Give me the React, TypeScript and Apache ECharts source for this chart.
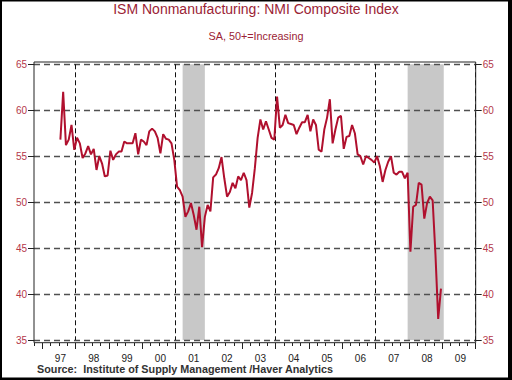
import React, { useEffect, useRef } from "react";
import * as echarts from "echarts";

// Monthly categories: Oct 1996 .. Dec 2009
const months: string[] = [];
for (let y = 1996; y <= 2009; y++) {
  for (let m = 1; m <= 12; m++) {
    if (y === 1996 && m < 10) continue;
    months.push(`${y}-${m < 10 ? "0" + m : m}`);
  }
}

const firstDataMonth = "1997-07";

// NMI composite index, Jul 1997 .. Dec 2008
const nmi1997 = [56.8, 62.0, 56.2, 56.8, 58.4, 55.7];
const nmi1998 = [57.0, 56.4, 54.8, 55.3, 56.1, 55.2, 55.8, 53.5, 55.0, 54.2, 52.8, 52.9];
const nmi1999 = [55.6, 54.6, 55.2, 55.5, 55.5, 56.6, 56.4, 56.4, 56.4, 57.5, 55.2, 56.8];
const nmi2000 = [56.6, 56.2, 57.7, 58.0, 57.7, 57.0, 55.3, 57.4, 56.9, 56.8, 56.4, 54.6];
const nmi2001 = [51.7, 51.3, 50.6, 48.4, 49.0, 49.9, 48.6, 47.0, 49.5, 45.1, 48.4, 49.7];
const nmi2002 = [49.0, 52.7, 53.0, 53.7, 54.9, 52.6, 50.6, 51.1, 52.1, 51.5, 52.8, 52.4];
const nmi2003 = [53.2, 52.4, 49.4, 51.0, 53.7, 57.0, 59.0, 57.9, 58.8, 57.9, 57.0, 56.8];
const nmi2004 = [61.5, 58.1, 58.4, 59.5, 58.6, 58.5, 58.4, 57.4, 58.1, 58.7, 58.7, 59.5];
const nmi2005 = [57.7, 59.0, 58.4, 55.7, 55.5, 57.9, 59.2, 61.2, 56.4, 57.9, 59.2, 59.4];
const nmi2006 = [55.8, 57.1, 57.2, 58.4, 57.5, 55.2, 55.0, 54.1, 55.0, 54.8, 54.6, 54.3];
const nmi2007 = [55.0, 53.9, 52.2, 53.5, 54.4, 55.0, 53.2, 53.0, 53.3, 53.3, 52.6, 53.2];
const nmi2008 = [44.6, 49.5, 49.7, 52.1, 51.9, 48.2, 49.9, 50.6, 50.2, 44.4, 37.3, 40.6];

const recessions: [string, string][] = [
  ["2001-03", "2001-11"],
  ["2007-12", "2009-01"],
];

const dashedYears = ["1998-01", "2001-01", "2004-01", "2007-01"];
const yTicks = { min: 35, max: 65, step: 5 };

const title = "ISM Nonmanufacturing: NMI Composite Index";
const subtitle = "SA, 50+=Increasing";
const source = "Source:  Institute of Supply Management /Haver Analytics";

const values: (number | null)[] = (() => {
  const all = [
    ...nmi1997, ...nmi1998, ...nmi1999, ...nmi2000, ...nmi2001, ...nmi2002,
    ...nmi2003, ...nmi2004, ...nmi2005, ...nmi2006, ...nmi2007, ...nmi2008,
  ];
  const start = months.indexOf(firstDataMonth);
  return months.map((_, i) => (i >= start && i - start < all.length ? all[i - start] : null));
})();

export default function App() {
  const ref = useRef<HTMLDivElement>(null);
  useEffect(() => {
    if (!ref.current) return;
    const chart = echarts.init(ref.current, null, { renderer: "svg" });
    const red = "#b4374a";
    const gridTop = 64.3;
    const gridBottom = 40;
    const gridLeft = 34;
    const gridRight = 36.3;
    const monthOf = (i: number) => Number(months[i].slice(5, 7));
    const yAxisBase = {
      type: "value",
      min: yTicks.min,
      max: yTicks.max,
      interval: yTicks.step,
      z: 2,
      axisLine: { show: false },
      axisTick: { show: true, length: 6, lineStyle: { color: "#222", width: 1 } },
      axisLabel: { color: red, fontSize: 10, fontFamily: "Liberation Sans, Arial", margin: 7 },
    };
    chart.setOption({
      animation: false,
      backgroundColor: "#fff",
      grid: { left: gridLeft, right: gridRight, top: gridTop, bottom: gridBottom, containLabel: false },
      xAxis: [
        {
          type: "category",
          data: months,
          boundaryGap: true,
          position: "bottom",
          offset: 3,
          z: 2,
          axisLine: { show: false },
          axisTick: {
            show: true,
            length: 3,
            interval: (i: number) => (monthOf(i) - 1) % 3 === 0,
            lineStyle: { color: "#222", width: 1 },
          },
          axisLabel: {
            show: true,
            interval: (i: number) => monthOf(i) === 7,
            formatter: (v: string) => v.slice(2, 4),
            color: "#222",
            fontSize: 10,
            fontFamily: "Liberation Sans, Arial",
            margin: 10,
          },
          splitLine: { show: false },
        },
        {
          type: "category",
          data: months,
          boundaryGap: true,
          position: "bottom",
          offset: 3,
          z: 2,
          axisLine: { show: false },
          axisLabel: { show: false },
          axisTick: {
            show: true,
            length: 6,
            interval: (i: number) => monthOf(i) === 1,
            lineStyle: { color: "#222", width: 1 },
          },
          splitLine: {
            show: true,
            interval: (i: number) => dashedYears.includes(months[i]),
            lineStyle: { color: "#111", width: 1, type: [5, 3] },
          },
        },
      ],
      yAxis: [
        {
          ...yAxisBase,
          position: "left",
          splitLine: { show: true, lineStyle: { color: "#505050", width: 1.4, type: [6, 4] } },
        },
        {
          ...yAxisBase,
          position: "right",
          splitLine: { show: false },
        },
      ],
      series: [
        {
          type: "line",
          xAxisIndex: 0,
          yAxisIndex: 0,
          data: values,
          z: 1,
          silent: true,
          symbol: "none",
          lineStyle: { width: 0, opacity: 0 },
          markArea: {
            silent: true,
            itemStyle: { color: "#c8c8c8" },
            data: recessions.map(([a, b]) => [
              { xAxis: a, yAxis: 65.25 },
              { xAxis: b, yAxis: 34.7 },
            ]),
          },
        },
        {
          type: "line",
          xAxisIndex: 0,
          yAxisIndex: 0,
          data: values,
          z: 3,
          symbol: "none",
          connectNulls: false,
          lineStyle: { color: "#b0102e", width: 2 },
        },
      ],
      graphic: [
        {
          type: "rect",
          z: 100,
          shape: { x: 34, y: 62, width: 441.7, height: 280.7 },
          style: { fill: "none", stroke: "#222", lineWidth: 1 },
          silent: true,
        },
        {
          type: "text",
          left: "center",
          top: 2,
          style: { text: title, fill: "#9b2335", fontSize: 14, fontFamily: "Liberation Sans, Arial" },
        },
        {
          type: "text",
          left: "center",
          top: 30,
          style: { text: subtitle, fill: "#9b2335", fontSize: 10.8, fontFamily: "Liberation Sans, Arial" },
        },
        {
          type: "text",
          left: 37,
          top: 363,
          style: { text: source, fill: "#333", fontSize: 10.8, fontFamily: "Liberation Sans, Arial", fontWeight: "bold" },
        },
        { type: "rect", z: 200, shape: { x: 0, y: 0, width: 512, height: 1.5 }, style: { fill: "#000" } },
        { type: "rect", z: 200, shape: { x: 0, y: 0, width: 2, height: 380 }, style: { fill: "#000" } },
        { type: "rect", z: 200, shape: { x: 508, y: 0, width: 4, height: 380 }, style: { fill: "#000" } },
        { type: "rect", z: 200, shape: { x: 0, y: 377.5, width: 512, height: 2.5 }, style: { fill: "#000" } },
      ],
    });
    return () => chart.dispose();
  }, []);
  return (
    <div
      ref={ref}
      style={{ position: "fixed", left: 0, top: 0, width: 512, height: 380, background: "#fff" }}
    />
  );
}
